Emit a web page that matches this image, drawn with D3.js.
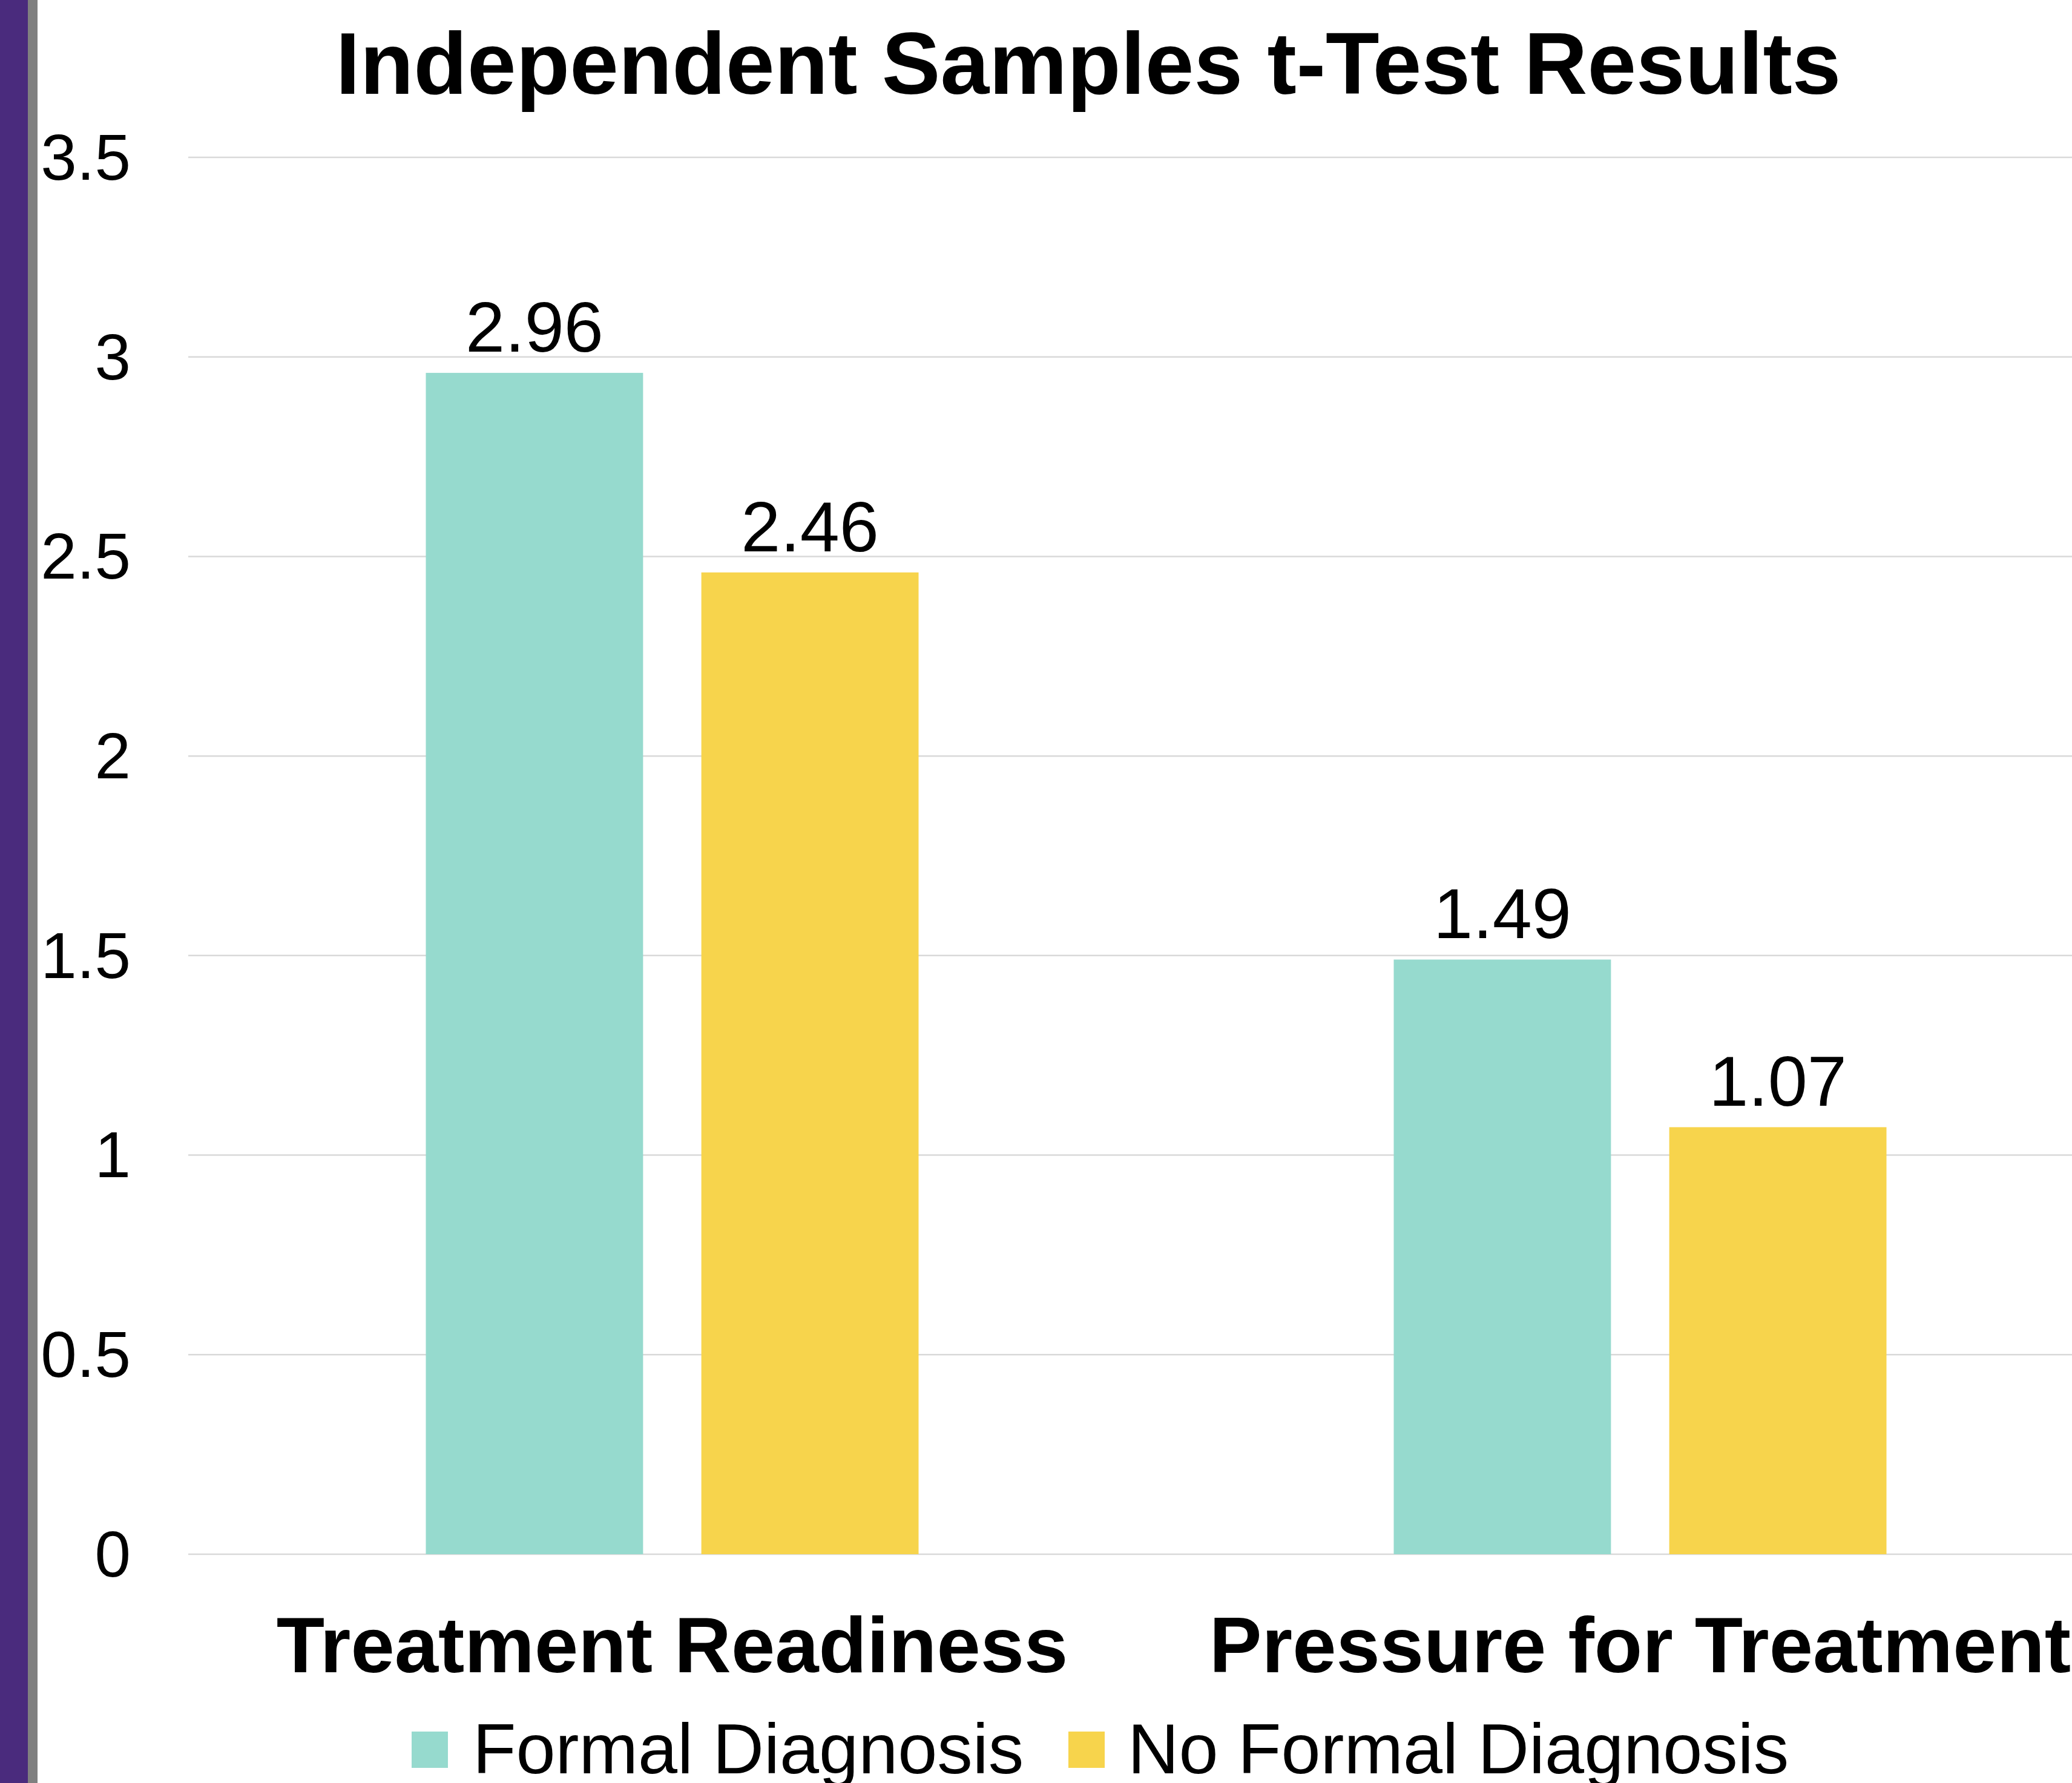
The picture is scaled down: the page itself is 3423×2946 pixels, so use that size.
<!DOCTYPE html>
<html>
<head>
<meta charset="utf-8">
<script src="https://cdn.jsdelivr.net/npm/d3@7"></script>
<style>
  html, body { margin: 0; padding: 0; background: #ffffff; }
  svg { display: block; }
  text { font-family: "Liberation Sans", Arial, Helvetica, sans-serif; fill: #000; }
</style>
</head>
<body>
<script>
// ---- data ----
const categories = ["Treatment Readiness", "Pressure for Treatment"];
const seriesNames = ["Formal Diagnosis", "No Formal Diagnosis"];
const formalDiagnosis = [2.96, 1.49];
const noFormalDiagnosis = [2.46, 1.07];
const yTickValues = [0, 0.5, 1, 1.5, 2, 2.5, 3, 3.5];
const yTickLabels = ["0", "0.5", "1", "1.5", "2", "2.5", "3", "3.5"];
const chartTitle = "Independent Samples t-Test Results";
const seriesColors = ["#96DACE", "#F7D44C"];

// ---- layout ----
const W = 3423, H = 2946;
const plotLeft = 311, plotRightBand = 3509, gridRight = 3423;
const yBottom = 2568, yTop = 260;
const clusterHalf = 407;

const svg = d3.select("body").append("svg")
  .attr("width", W).attr("height", H);

// left decorative bars
svg.append("rect").attr("x", 0).attr("y", 0).attr("width", 46).attr("height", H).attr("fill", "#4A2B7D");
svg.append("rect").attr("x", 46).attr("y", 0).attr("width", 16).attr("height", H).attr("fill", "#808080");

// scales
const y = d3.scaleLinear().domain([0, 3.5]).range([yBottom, yTop]);
const x0 = d3.scaleBand().domain(categories).range([plotLeft, plotRightBand]).padding(0);
const x1 = d3.scaleBand().domain(seriesNames).range([-clusterHalf, clusterHalf]).paddingInner(0.2115).paddingOuter(0);
const color = d3.scaleOrdinal().domain(seriesNames).range(seriesColors);

// gridlines
svg.append("g").selectAll("line").data(yTickValues).join("line")
  .attr("x1", plotLeft).attr("x2", gridRight)
  .attr("y1", d => y(d)).attr("y2", d => y(d))
  .attr("stroke", "#D9D9D9").attr("stroke-width", 2.5);

// y axis labels
const yAxis = d3.axisLeft(y).tickValues(yTickValues)
  .tickFormat((d, i) => yTickLabels[i]).tickSize(0).tickPadding(0);
const yg = svg.append("g").attr("transform", "translate(216,0)").call(yAxis);
yg.select(".domain").remove();
yg.selectAll("text")
  .attr("font-size", 107)
  .attr("font-family", "Liberation Sans, Arial, sans-serif")
  .attr("fill", "#000")
  .attr("dy", "0.34em");

// bars
const rows = categories.map((c, i) => ({
  cat: c,
  vals: [
    { s: seriesNames[0], v: formalDiagnosis[i] },
    { s: seriesNames[1], v: noFormalDiagnosis[i] }
  ]
}));

const groups = svg.append("g").selectAll("g").data(rows).join("g")
  .attr("transform", d => `translate(${x0(d.cat) + x0.bandwidth() / 2},0)`);

groups.selectAll("rect").data(d => d.vals).join("rect")
  .attr("x", d => x1(d.s))
  .attr("width", x1.bandwidth())
  .attr("y", d => y(d.v))
  .attr("height", d => y(0) - y(d.v))
  .attr("fill", d => color(d.s));

groups.selectAll("text.val").data(d => d.vals).join("text")
  .attr("class", "val")
  .attr("x", d => x1(d.s) + x1.bandwidth() / 2)
  .attr("y", d => y(d.v) - 35)
  .attr("text-anchor", "middle")
  .attr("font-size", 117)
  .text(d => d3.format(".2f")(d.v));

// category labels
const xAxis = d3.axisBottom(x0).tickSize(0).tickPadding(0);
const xg = svg.append("g").attr("transform", "translate(0,2763)").call(xAxis);
xg.select(".domain").remove();
xg.selectAll("text")
  .attr("font-size", 130)
  .attr("font-weight", "bold")
  .attr("font-family", "Liberation Sans, Arial, sans-serif")
  .attr("fill", "#000")
  .attr("dy", 0)
  .attr("y", 0);

// title
svg.append("text")
  .attr("x", 1798).attr("y", 155)
  .attr("text-anchor", "middle")
  .attr("font-size", 145)
  .attr("font-weight", "bold")
  .text(chartTitle);

// legend
const legendItems = [
  { name: seriesNames[0], sx: 680, tx: 781 },
  { name: seriesNames[1], sx: 1765, tx: 1863 }
];
const lg = svg.append("g");
lg.selectAll("rect").data(legendItems).join("rect")
  .attr("x", d => d.sx).attr("y", 2861)
  .attr("width", 60).attr("height", 60)
  .attr("fill", d => color(d.name));
lg.selectAll("text").data(legendItems).join("text")
  .attr("x", d => d.tx).attr("y", 2930)
  .attr("font-size", 117)
  .text(d => d.name);
</script>
</body>
</html>
